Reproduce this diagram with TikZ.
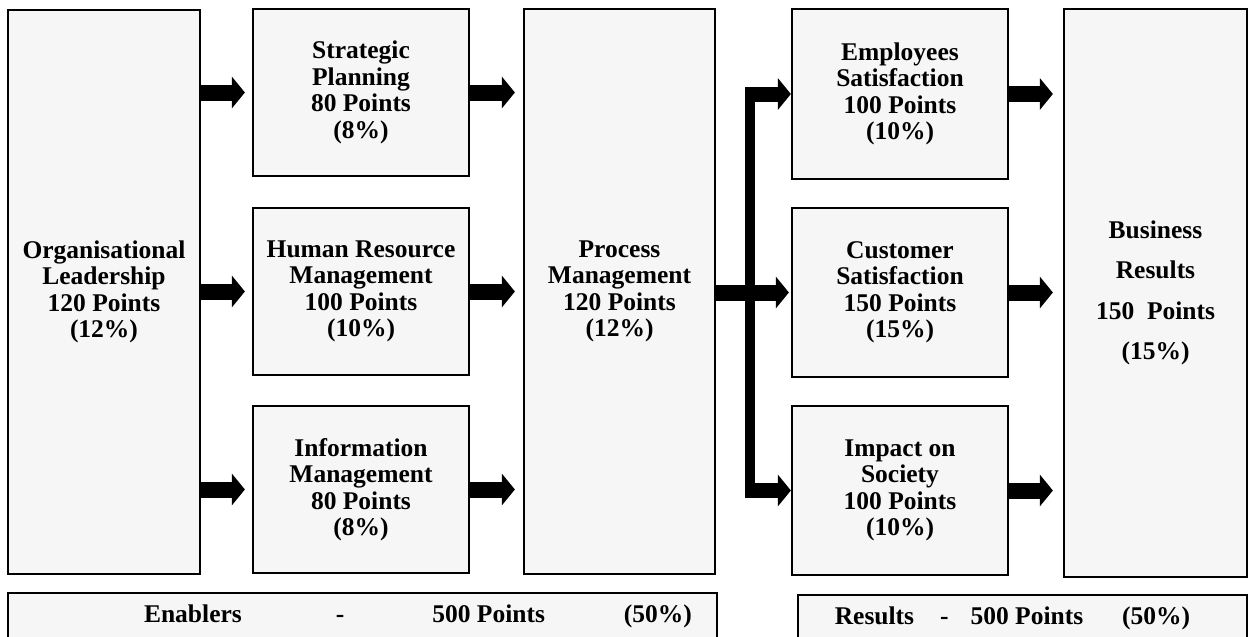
\documentclass[tikz,border=0pt]{standalone}
\usepackage{fontspec}
\setmainfont{Liberation Serif}
\usepackage{tikz}
\usetikzlibrary{arrows.meta,calc}
\definecolor{boxgray}{RGB}{246, 246, 246}

\begin{document}
\begin{tikzpicture}[x=0.5pt, y=-0.5pt,
        block/.style={draw, line width=1.1pt, fill=boxgray, align=center, inner sep=1pt,
                      font=\fontsize{12.75}{13.25}\selectfont\bfseries},
        bar/.style={block, anchor=north, text height=9pt, text depth=30pt, inner ysep=5.75pt},
        blockarrow/.style={line width=8pt, -{Triangle[length=6.5pt, width=15.5pt]}},
        trunk/.style={line width=5pt}]
            \useasboundingbox (0,0) rectangle (1250,637);
            \node[block, minimum width=96pt,   minimum height=282pt]  (lead) at ( 104.0, 292.0) {Organisational\\Leadership\\120 Points\\(12\%)};
            \node[block, minimum width=108pt,  minimum height=83.5pt] (plan) at ( 361.0,  92.5) {Strategic\\Planning\\80 Points\\(8\%)};
            \node[block, minimum width=108pt,  minimum height=83.5pt] (hrm)  at ( 361.0, 291.5) {Human Resource\\Management\\100 Points\\(10\%)};
            \node[block, minimum width=108pt,  minimum height=83.5pt] (info) at ( 361.0, 489.5) {Information\\Management\\80 Points\\(8\%)};
            \node[block, minimum width=95.5pt, minimum height=282.5pt](proc) at ( 619.5, 291.5) {Process\\Management\\120 Points\\(12\%)};
            \node[block, minimum width=108pt,  minimum height=85pt]   (emp)  at ( 900.0,  94.0) {Employees\\Satisfaction\\100 Points\\(10\%)};
            \node[block, minimum width=108pt,  minimum height=84.5pt] (cust) at ( 900.0, 292.5) {Customer\\Satisfaction\\150 Points\\(15\%)};
            \node[block, minimum width=108pt,  minimum height=84.5pt] (soc)  at ( 900.0, 490.5) {Impact on\\Society\\100 Points\\(10\%)};
            \node[block, minimum width=91.5pt, minimum height=284pt]  (biz)  at (1155.5, 293.0) {Business\\[7pt]Results\\[7pt]150\ \ Points\\[7pt](15\%)};
            \node[bar,   minimum width=354.5pt] (enab) at ( 362.5, 592.0)
                 {\hspace*{55.5pt}Enablers\hspace{47pt}-\hspace{44pt}500 Points\hspace{39.5pt}(50\%)};
            \node[bar,   minimum width=224.5pt] (res)  at (1022.5, 594.0)
                 {Results\hspace{13pt}-\hspace{11pt}500 Points\hspace{19.5pt}(50\%)\hspace*{10pt}};
            \draw[blockarrow, shorten >=3.5pt] (lead.east |- plan.west) -- (plan.west);
            \draw[blockarrow, shorten >=3.5pt] (lead.east |- hrm.west)  -- (hrm.west);
            \draw[blockarrow, shorten >=3.5pt] (lead.east |- info.west) -- (info.west);
            \draw[blockarrow, shorten >=4pt]   (plan.east) -- (proc.west |- plan.east);
            \draw[blockarrow, shorten >=4pt]   (hrm.east)  -- (proc.west |- hrm.east);
            \draw[blockarrow, shorten >=4pt]   (info.east) -- (proc.west |- info.east);
            \coordinate (fork) at (750, 294);
            \draw[trunk] ($(fork |- emp.west)+(0,-7.5)$) -- ($(fork |- soc.west)+(0,7.5)$);
            \draw[blockarrow, line width=7.5pt] ($(fork |- emp.west)+(-5,0)$) -- (emp.west);
            \draw[blockarrow, shorten >=1pt]    (proc.east |- cust.west) -- (cust.west);
            \draw[blockarrow, line width=7.5pt] ($(fork |- soc.west)+(-5,0)$) -- (soc.west);
            \draw[blockarrow, shorten >=5pt]   (emp.east)  -- (biz.west |- emp.east);
            \draw[blockarrow, shorten >=5pt]   (cust.east) -- (biz.west |- cust.east);
            \draw[blockarrow, shorten >=5pt]   (soc.east)  -- (biz.west |- soc.east);
        \end{tikzpicture}
\end{document}
